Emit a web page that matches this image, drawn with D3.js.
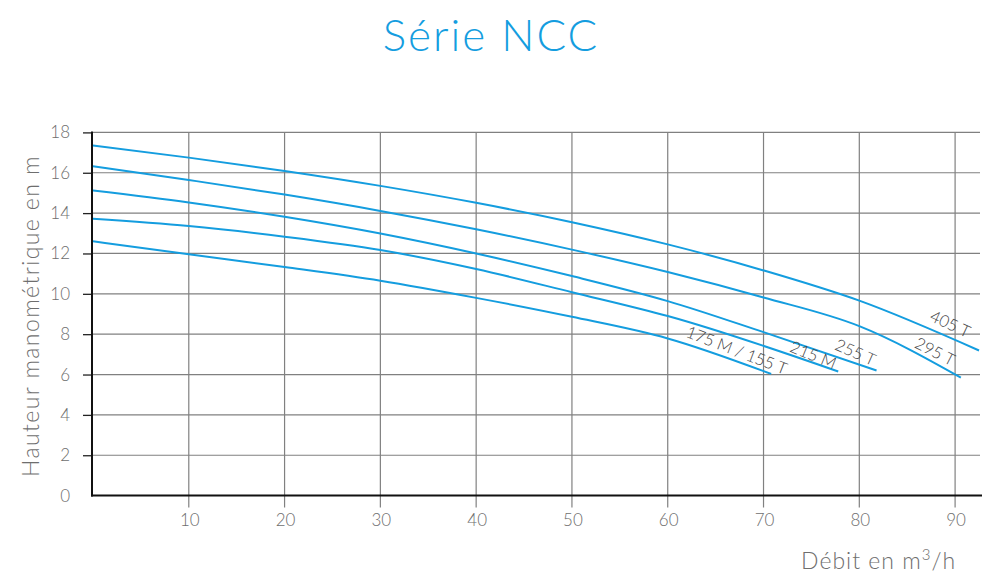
<!DOCTYPE html>
<html>
<head>
<meta charset="utf-8">
<script src="https://cdn.jsdelivr.net/npm/d3@7"></script>
<style>
  body { margin: 0; background: #fff; }
  svg text { font-family: Lato, "Open Sans", sans-serif; font-weight: 300; }
</style>
</head>
<body>
<div id="chart"></div>
<script>
// Pump curves, Série NCC (flow m3/h -> head m)
const flow405 = [0, 10, 20, 30, 40, 50, 60, 70, 80, 92.5];
const head405 = [17.35, 16.75, 16.09, 15.35, 14.51, 13.55, 12.45, 11.16, 9.66, 7.19];
const flow295 = [0, 10, 20, 30, 40, 50, 60, 70, 80, 90.6];
const head295 = [16.32, 15.64, 14.92, 14.11, 13.2, 12.19, 11.08, 9.82, 8.4, 5.85];
const flow255 = [0, 10, 20, 30, 40, 50, 60, 70, 81.8];
const head255 = [15.12, 14.53, 13.82, 12.99, 12.0, 10.88, 9.64, 8.1, 6.2];
const flow215 = [0, 10, 20, 30, 40, 50, 60, 77.8];
const head215 = [13.72, 13.36, 12.83, 12.17, 11.23, 10.08, 8.9, 6.15];
const flow175 = [0, 10, 20, 30, 40, 50, 60, 70.8];
const head175 = [12.6, 11.96, 11.33, 10.65, 9.8, 8.86, 7.79, 6.03];

const seriesNames = ['405 T', '295 T', '255 T', '215 M', '175 M / 155 T'];
// label anchor (flow, head) and angle for each curve name
const labelFlow = [89.5, 87.9, 79.6, 75.2, 67.2];
const labelHead = [8.51, 7.14, 7.1, 6.97, 7.2];
const labelAngle = [25, 27, 24, 22, 21];

const xTicks = [10, 20, 30, 40, 50, 60, 70, 80, 90];
const yTicks = [0, 2, 4, 6, 8, 10, 12, 14, 16, 18];

const series = [
    { flow: flow405, head: head405 },
    { flow: flow295, head: head295 },
    { flow: flow255, head: head255 },
    { flow: flow215, head: head215 },
    { flow: flow175, head: head175 }
];

const width = 1000, height = 588;
const svg = d3.select('#chart').append('svg')
    .attr('width', width)
    .attr('height', height);

const x = d3.scaleLinear().domain([0, 92.6]).range([93, 980]);
const y = d3.scaleLinear().domain([0, 18]).range([495.6, 132.4]);

const blue = '#149ddf';
const gridColor = '#808080';
const textColor = '#6e6e6e';

// title
svg.append('text')
    .attr('x', 491)
    .attr('y', 51)
    .attr('text-anchor', 'middle')
    .attr('fill', blue)
    .style('font-size', '44px')
    .style('font-weight', 300)
    .style('letter-spacing', '2px')
    .text('Série NCC');

// horizontal grid
svg.append('g')
    .selectAll('line')
    .data(yTicks.filter(d => d > 0))
    .enter()
    .append('line')
    .attr('x1', x(0))
    .attr('x2', x.range()[1])
    .attr('y1', d => y(d))
    .attr('y2', d => y(d))
    .attr('stroke', gridColor)
    .attr('stroke-width', 1.2);

// vertical grid + ticks below the axis
svg.append('g')
    .selectAll('line')
    .data(xTicks)
    .enter()
    .append('line')
    .attr('x1', d => x(d))
    .attr('x2', d => x(d))
    .attr('y1', y(18))
    .attr('y2', y(0) + 12)
    .attr('stroke', gridColor)
    .attr('stroke-width', 1.2);

// y axis with ticks
const yAxis = d3.axisLeft(y).tickValues(yTicks.filter(d => d > 0)).tickSize(9).tickFormat('');
svg.append('g')
    .attr('transform', `translate(${x(0) - 1},0)`)
    .call(yAxis)
    .call(g => g.select('.domain').remove())
    .selectAll('line')
    .attr('stroke', '#222')
    .attr('stroke-width', 1.3);

svg.append('g')
    .selectAll('text')
    .data(yTicks)
    .enter()
    .append('text')
    .attr('x', 70)
    .attr('y', d => y(d) + 6)
    .attr('text-anchor', 'end')
    .attr('fill', textColor)
    .style('font-size', '17px')
    .text(d => d);

svg.append('g')
    .selectAll('text')
    .data(xTicks)
    .enter()
    .append('text')
    .attr('x', d => x(d) + 1)
    .attr('y', y(0) + 30)
    .attr('text-anchor', 'middle')
    .attr('fill', textColor)
    .style('font-size', '17px')
    .text(d => d);

// axis lines
svg.append('line')
    .attr('x1', x(0) - 1).attr('x2', x(0) - 1)
    .attr('y1', y(18) - 1).attr('y2', y(0) + 1)
    .attr('stroke', '#111').attr('stroke-width', 2);
svg.append('line')
    .attr('x1', x(0) - 2).attr('x2', x.range()[1] + 2)
    .attr('y1', y(0)).attr('y2', y(0))
    .attr('stroke', '#111').attr('stroke-width', 2);

// curves
const line = d3.line()
    .x(d => x(d[0]))
    .y(d => y(d[1]))
    .curve(d3.curveMonotoneX);

svg.append('g')
    .selectAll('path')
    .data(series)
    .enter()
    .append('path')
    .attr('d', s => line(s.flow.map((f, i) => [f, s.head[i]])))
    .attr('fill', 'none')
    .attr('stroke', blue)
    .attr('stroke-width', 2);

// curve labels
svg.append('g')
    .selectAll('text')
    .data(seriesNames)
    .enter()
    .append('text')
    .attr('transform', (d, i) => `translate(${x(labelFlow[i])},${y(labelHead[i])}) rotate(${labelAngle[i]})`)
    .attr('text-anchor', 'middle')
    .attr('dy', '0.35em')
    .attr('fill', '#444')
    .style('font-size', '16.5px')
    .text(d => d);

// axis titles
svg.append('text')
    .attr('transform', `translate(39,${y(8.9)}) rotate(-90)`)
    .attr('text-anchor', 'middle')
    .attr('fill', textColor)
    .style('font-size', '23px')
    .style('letter-spacing', '1.4px')
    .text('Hauteur manométrique en m');

const xTitle = svg.append('text')
    .attr('x', x(90) + 1)
    .attr('y', 569)
    .attr('text-anchor', 'end')
    .attr('fill', textColor)
    .style('font-size', '23px')
    .style('letter-spacing', '1px');
xTitle.append('tspan').text('Débit en m');
xTitle.append('tspan').attr('dy', -9).style('font-size', '15px').text('3');
xTitle.append('tspan').attr('dy', 9).text('/h');
</script>
</body>
</html>
